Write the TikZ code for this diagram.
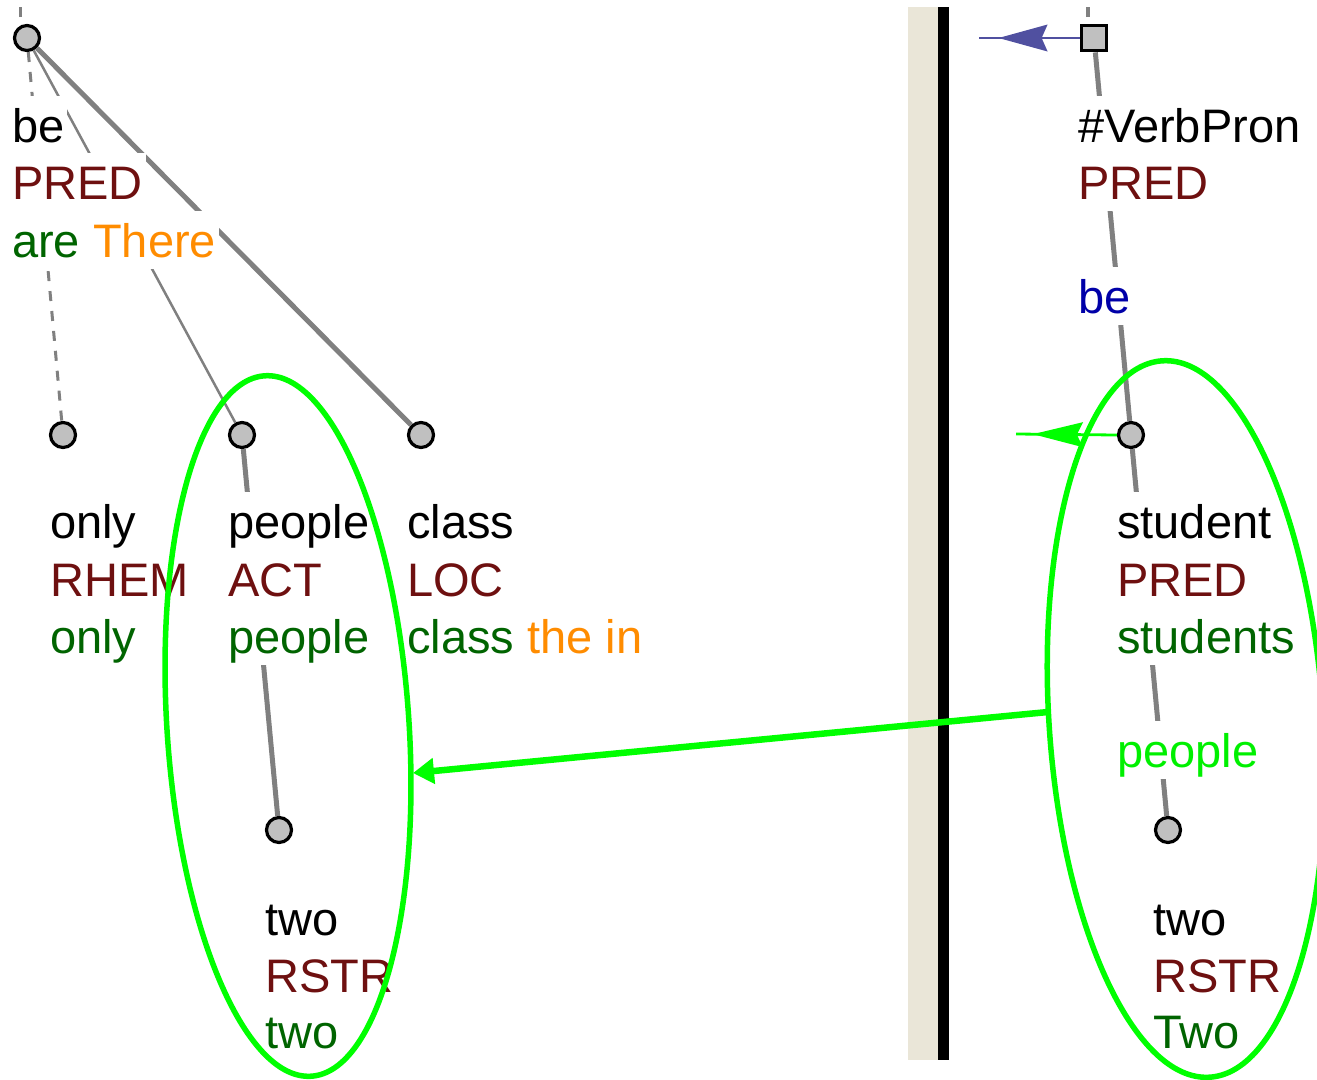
\documentclass[tikz,border=0pt]{standalone}
\usepackage{fontspec}
\setmainfont{Liberation Sans}
\usetikzlibrary{arrows.meta,decorations.markings}
\definecolor{edgegray}{HTML}{808080}
\definecolor{nodegray}{HTML}{C0C0C0}
\definecolor{funcol}{HTML}{6E1010}
\definecolor{wordgreen}{HTML}{006400}
\definecolor{wordorange}{HTML}{FF8C00}
\definecolor{lemblue}{HTML}{0000A8}
\definecolor{brightgreen}{HTML}{00F000}
\definecolor{hlgreen}{HTML}{00FF00}
\definecolor{sepbeige}{HTML}{EAE6D8}
\definecolor{corefblue}{HTML}{5050A0}
\begin{document}
\begin{tikzpicture}[x=1pt,y=-1pt,
  font=\fontsize{47}{57.5}\selectfont,
  tnode/.style={circle, draw=black, fill=nodegray, line width=3.2pt, minimum size=25pt, inner sep=0pt},
  rootsq/.style={rectangle, draw=black, fill=nodegray, line width=3.8pt, minimum size=25pt, inner sep=0pt},
  row/.style={anchor=base west, fill=white, inner xsep=3pt, inner ysep=0pt, text height=46pt, text depth=11.5pt},
  thickedge/.style={draw=edgegray, line width=5pt},
  thinedge/.style={draw=edgegray, line width=2.5pt},
  dashedge/.style={draw=edgegray, line width=3pt, dash pattern=on 10pt off 10pt},
  topdash/.style={draw=edgegray, line width=3.5pt},
  hlring/.style={draw=hlgreen, line width=5.5pt},
  fun/.style={text=funcol},
  lem/.style={text=black},
  wrd/.style={text=wordgreen}]
\useasboundingbox (0,0) rectangle (1317,1079);

% separator
\fill[sepbeige] (908,7) rectangle (938,1060);
\fill[black] (938,7) rectangle (949,1060);

% tree nodes
\node[tnode] (root) at (27,38) {};
\node[tnode] (only) at (63,435) {};
\node[tnode] (people) at (242,435) {};
\node[tnode] (class) at (421,435) {};
\node[tnode] (twoL) at (279,830) {};
\node[rootsq] (sq) at (1094,38) {};
\node[tnode] (student) at (1131,435) {};
\node[tnode] (twoR) at (1168,830) {};

% coordinates for free ends
\coordinate (rootA) at (20.5,17);
\coordinate (rootB) at (20.5,7);
\coordinate (sqA) at (1088,17);
\coordinate (sqB) at (1088,7);
\coordinate (blueEnd) at (979,38);
\coordinate (greenEnd) at (1016,434);
\coordinate (bigStart) at (1048,712);
\coordinate (bigEnd) at (413,773);

% edges
\draw[topdash] (rootA) -- (rootB);
\draw[topdash] (sqA) -- (sqB);
\draw[dashedge] (root) -- (only);
\draw[thinedge] (root) -- (people);
\draw[thickedge] (root) -- (class);
\draw[thickedge] (people) -- (twoL);
\draw[thickedge] (sq) -- (student);
\draw[thickedge] (student) -- (twoR);

% labels
\node[row, lem] (l1) at (9,142) {be};
\node[row, fun] (l2) at (9,199) {PRED};
\node[row] (l3) at (9,257) {\textcolor{wordgreen}{are} \textcolor{wordorange}{There}};

\node[row, lem] (o1) at (47,538) {only};
\node[row, fun] (o2) at (47,596) {RHEM};
\node[row, wrd] (o3) at (47,653) {only};

\node[row, lem] (p1) at (225,538) {people};
\node[row, fun] (p2) at (225,596) {ACT};
\node[row, wrd] (p3) at (225,653) {people};

\node[row, lem] (c1) at (404,538) {class};
\node[row, fun] (c2) at (404,596) {LOC};
\node[row] (c3) at (404,653) {\textcolor{wordgreen}{class} \textcolor{wordorange}{the in}};

\node[row, lem] (t1) at (262,935) {two};
\node[row, fun] (t2) at (262,992) {RSTR};
\node[row, wrd] (t3) at (262,1048) {two};

\node[row, lem] (v1) at (1075,142) {\#VerbPron};
\node[row, fun] (v2) at (1075,199) {PRED};
\node[row, text=lemblue] (v4) at (1075,313) {be};

\node[row, lem] (s1) at (1114,538) {student};
\node[row, fun] (s2) at (1114,596) {PRED};
\node[row, wrd] (s3) at (1114,653) {students};
\node[row, text=brightgreen] (s5) at (1114,767) {people};

\node[row, lem] (u1) at (1150,935) {two};
\node[row, fun] (u2) at (1150,992) {RSTR};
\node[row, wrd] (u3) at (1150,1048) {Two};

% highlight ellipses
\draw[hlring, rotate around={3.8:(288,726)}] (288,726) ellipse [x radius=121pt, y radius=351pt];
\draw[hlring, rotate around={3.8:(1186,719)}] (1186,719) ellipse [x radius=137pt, y radius=359pt];

% coreference arrows
\draw[corefblue, line width=2.5pt, postaction={decorate},
  decoration={markings, mark=at position 81pt with {\arrow{Stealth[length=49pt,width=27pt,inset=6pt,line width=0pt]}}}]
  (sq.west) -- (blueEnd);
\draw[hlgreen, line width=2.8pt, postaction={decorate},
  decoration={markings, mark=at position 84pt with {\arrow{Stealth[length=50pt,width=25pt,inset=6pt,line width=0pt]}}}]
  (student.west) -- (greenEnd);
\draw[hlgreen, line width=6.5pt, -{Triangle[length=21pt,width=25pt]}] (bigStart) -- (bigEnd);
\end{tikzpicture}
\end{document}
